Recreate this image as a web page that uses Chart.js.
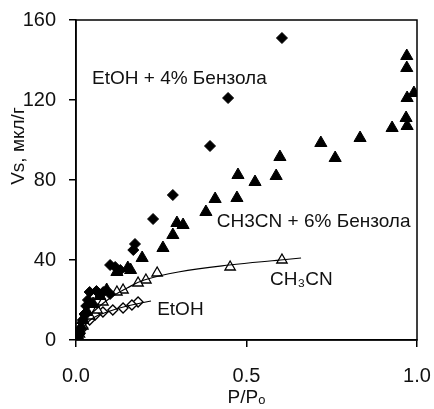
<!DOCTYPE html>
<html>
<head>
<meta charset="utf-8">
<script src="https://cdn.jsdelivr.net/npm/chart.js@4/dist/chart.umd.min.js"></script>
<style>
  html, body { margin: 0; padding: 0; background: #fff; }
  #wrap { width: 434px; height: 409px; }
</style>
</head>
<body>
<div id="wrap"><canvas id="isoChart" width="434" height="409"></canvas></div>
<script>
// EtOH + 4% benzene (filled diamonds)
const etohBenzX = [0.604, 0.446, 0.393, 0.284, 0.226, 0.173, 0.168, 0.100, 0.115, 0.130, 0.040, 0.060, 0.080, 0.100, 0.035, 0.030, 0.025, 0.020, 0.015, 0.010];
const etohBenzY = [151, 121, 97, 72.5, 60.5, 48, 45, 37.5, 36.5, 35, 24, 24.5, 24, 23, 20, 17, 13, 10, 6, 3];

// CH3CN + 6% benzene (filled triangles)
const mecnBenzX = [0.970, 0.970, 0.991, 0.971, 0.968, 0.971, 0.927, 0.833, 0.718, 0.760, 0.598, 0.587, 0.475, 0.525, 0.472, 0.408, 0.381, 0.296, 0.314, 0.284, 0.255, 0.194, 0.152, 0.160, 0.120, 0.090, 0.070, 0.050, 0.030, 0.020, 0.010, 0.005];
const mecnBenzY = [142, 136, 123.5, 121, 111, 107, 106, 101, 98.5, 91, 91.5, 82, 82.5, 79, 71, 70.5, 64, 58.5, 57.5, 52.5, 46, 41, 36, 35, 34, 25, 22, 18, 14, 10, 5, 2];

// CH3CN (open triangles)
const mecnX = [0.604, 0.452, 0.238, 0.205, 0.182, 0.138, 0.120, 0.079, 0.062, 0.040, 0.020, 0.010];
const mecnY = [40, 36.5, 33.5, 30, 28.5, 25, 24, 19, 15, 12, 7, 3];

// EtOH (open diamonds)
const etohX = [0.182, 0.164, 0.138, 0.108, 0.079, 0.056, 0.040, 0.020, 0.010];
const etohY = [19, 17.5, 16, 15, 14, 12.5, 10, 6, 3];

// smooth lines drawn through the open symbols
const mecnFitX = [0, 0.02, 0.05, 0.10, 0.15, 0.20, 0.30, 0.45, 0.60, 0.66];
const mecnFitY = [0, 8, 14, 21, 26, 30, 34, 37.5, 40, 41];
const etohFitX = [0, 0.02, 0.05, 0.10, 0.15, 0.22];
const etohFitY = [0, 6, 11, 14.5, 17, 19.5];

const xTicks = [0, 0.5, 1.0];
const yTicks = [0, 40, 80, 120, 160];

// text labels placed in data coordinates
const noteText = ['EtOH + 4% Бензола', 'CH3CN + 6% Бензола', 'CH₃CN', 'EtOH'];
const noteX = [0.047, 0.413, 0.569, 0.238];
const noteY = [130.5, 59, 30, 15];

function pts(xs, ys) {
  return xs.map((x, i) => ({ x: x, y: ys[i] }));
}

const FONT = '"Liberation Sans", Arial, sans-serif';

// frame, y title and annotations
const framePlugin = {
  id: 'frame',
  afterDatasetsDraw(chart) {
    const { ctx, chartArea: a, scales } = chart;
    ctx.save();
    ctx.strokeStyle = '#000';
    ctx.lineWidth = 1.5;
    ctx.strokeRect(a.left, a.top, a.right - a.left, a.bottom - a.top);
    ctx.fillStyle = '#111';
    ctx.font = '19px ' + FONT;
    ctx.textBaseline = 'middle';
    ctx.textAlign = 'left';
    noteText.forEach((t, i) => {
      ctx.fillText(t, scales.x.getPixelForValue(noteX[i]), scales.y.getPixelForValue(noteY[i]));
    });
    // y axis title, sits above the middle like in the original
    ctx.translate(19, scales.y.getPixelForValue(97));
    ctx.rotate(-Math.PI / 2);
    ctx.textAlign = 'center';
    ctx.font = '19px ' + FONT;
    ctx.fillText('Vs, мкл/г', 0, 0);
    ctx.restore();
  }
};

new Chart(document.getElementById('isoChart'), {
  type: 'scatter',
  data: {
    datasets: [
      {
        label: 'EtOH + 4% Бензола',
        data: pts(etohBenzX, etohBenzY),
        pointStyle: 'rectRot',
        pointRadius: 5.5,
        backgroundColor: '#000',
        borderColor: '#000',
        borderWidth: 1
      },
      {
        label: 'CH3CN + 6% Бензола',
        data: pts(mecnBenzX, mecnBenzY),
        pointStyle: 'triangle',
        pointRadius: 7,
        backgroundColor: '#000',
        borderColor: '#000',
        borderWidth: 1
      },
      {
        label: 'CH3CN fit',
        data: pts(mecnFitX, mecnFitY),
        showLine: true,
        tension: 0.4,
        pointRadius: 0,
        borderColor: '#000',
        borderWidth: 1.2
      },
      {
        label: 'EtOH fit',
        data: pts(etohFitX, etohFitY),
        showLine: true,
        tension: 0.4,
        pointRadius: 0,
        borderColor: '#000',
        borderWidth: 1.2
      },
      {
        label: 'CH3CN',
        data: pts(mecnX, mecnY),
        pointStyle: 'triangle',
        pointRadius: 6,
        backgroundColor: '#fff',
        borderColor: '#000',
        borderWidth: 1.3
      },
      {
        label: 'EtOH',
        data: pts(etohX, etohY),
        pointStyle: 'rectRot',
        pointRadius: 5,
        backgroundColor: '#fff',
        borderColor: '#000',
        borderWidth: 1.3
      }
    ]
  },
  options: {
    responsive: false,
    animation: false,
    layout: { padding: { top: 20, right: 17, left: 0, bottom: 0 } },
    plugins: {
      legend: { display: false },
      tooltip: { enabled: false }
    },
    scales: {
      x: {
        type: 'linear',
        min: 0,
        max: 1,
        afterBuildTicks(scale) {
          scale.ticks = xTicks.map(v => ({ value: v }));
        },
        afterFit(scale) {
          // fixed box so the plot area matches the original
          scale.height = 69;
          scale.paddingLeft = 0;
          scale.paddingRight = 0;
        },
        ticks: {
          color: '#111',
          padding: 17,
          font: { family: FONT, size: 20 },
          callback: v => v.toFixed(1)
        },
        grid: { drawOnChartArea: false, drawTicks: true, tickLength: 7, color: '#000', lineWidth: 1.5 },
        border: { color: '#000', width: 1.5 },
        title: {
          display: true,
          text: 'P/Pₒ',
          color: '#111',
          font: { family: FONT, size: 19 },
          padding: { top: 0, bottom: 0 }
        }
      },
      y: {
        type: 'linear',
        min: 0,
        max: 160,
        afterBuildTicks(scale) {
          scale.ticks = yTicks.map(v => ({ value: v }));
        },
        afterFit(scale) {
          scale.width = 76;
          scale.paddingTop = 0;
          scale.paddingBottom = 0;
        },
        ticks: {
          color: '#111',
          padding: 13,
          font: { family: FONT, size: 20 }
        },
        grid: { drawOnChartArea: false, drawTicks: true, tickLength: 7, color: '#000', lineWidth: 1.5 },
        border: { color: '#000', width: 1.5 }
      }
    }
  },
  plugins: [framePlugin]
});
</script>
</body>
</html>
